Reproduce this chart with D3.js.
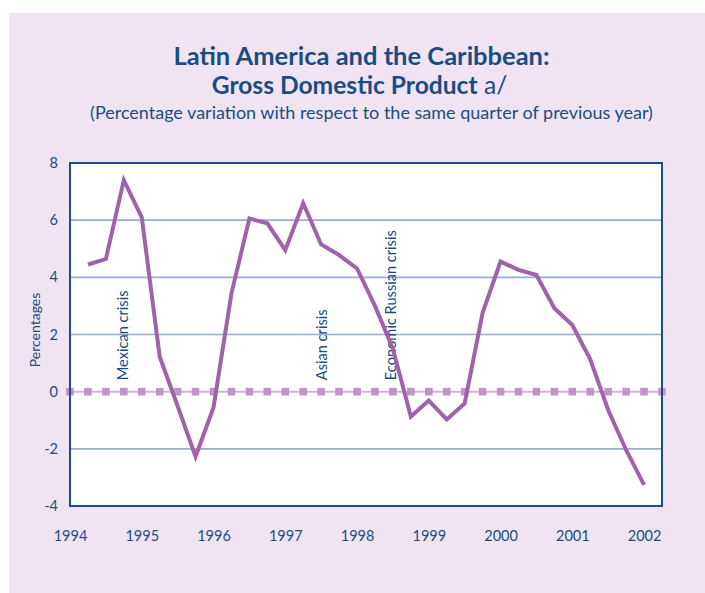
<!DOCTYPE html>
<html><head><meta charset="utf-8">
<script src="https://cdn.jsdelivr.net/npm/d3@7"></script>
<style>
html,body{margin:0;padding:0;background:#fff;}
svg{display:block;}
text{font-family:Lato,"Open Sans",sans-serif;}
</style></head>
<body><svg id="c" width="705" height="593"></svg>
<script>
// ---- data ----
const quarters = [
 "1994Q1","1994Q2","1994Q3","1994Q4","1995Q1","1995Q2","1995Q3","1995Q4",
 "1996Q1","1996Q2","1996Q3","1996Q4","1997Q1","1997Q2","1997Q3","1997Q4",
 "1998Q1","1998Q2","1998Q3","1998Q4","1999Q1","1999Q2","1999Q3","1999Q4",
 "2000Q1","2000Q2","2000Q3","2000Q4","2001Q1","2001Q2","2001Q3","2001Q4"];
const gdp = [4.45,4.64,7.40,6.10,1.22,-0.50,-2.27,-0.55,
             3.44,6.06,5.89,4.95,6.59,5.15,4.78,4.31,
             3.00,1.50,-0.87,-0.31,-0.97,-0.41,2.76,4.55,
             4.26,4.08,2.92,2.33,1.13,-0.64,-2.04,-3.26];
const yearTicks = [1994,1995,1996,1997,1998,1999,2000,2001,2002];
const yTicks = [-4,-2,0,2,4,6,8];
const crisisLabels = ["Mexican crisis","Asian crisis","Economic Russian crisis"];
const crisisTimes = [1994.74,1997.51,1998.47];
const titleLines = ["Latin America and the Caribbean:","Gross Domestic Product"];
const subtitle = "(Percentage variation with respect to the same quarter of previous year)";

// ---- layout ----
const svg = d3.select("#c");
const navy = "#1a4c84";
const qTime = q => +q.slice(0,4) + (+q.slice(5))/4;
const x = d3.scaleLinear().domain([1994,2002.25]).range([70,662]);
const y = d3.scaleLinear().domain([-4,8]).range([506,163]);

svg.append("rect").attr("x",9).attr("y",13).attr("width",696).attr("height",580).attr("fill","#f0e4f2");

// titles
svg.append("text").attr("x",361.5).attr("y",64.5).attr("text-anchor","middle")
  .attr("fill",navy).attr("font-weight","bold").attr("font-size",25.5).text(titleLines[0]);
const t2 = svg.append("text").attr("x",359.5).attr("y",94).attr("text-anchor","middle")
  .attr("fill",navy).attr("font-size",24.6);
t2.append("tspan").attr("font-weight","bold").text(titleLines[1]);
t2.append("tspan").attr("font-weight","normal").text(" a/");
svg.append("text").attr("x",371.5).attr("y",119).attr("text-anchor","middle")
  .attr("fill",navy).attr("font-size",18).text(subtitle);

// plot background
svg.append("rect").attr("x",70).attr("y",163).attr("width",592).attr("height",343).attr("fill","#fff");

// grid
svg.append("g").selectAll("line").data(yTicks.filter(d=>d!==0 && d!==8 && d!==-4)).join("line")
  .attr("x1",70).attr("x2",662).attr("y1",d=>y(d)).attr("y2",d=>y(d))
  .attr("stroke","#98acd0").attr("stroke-width",1.6);

// zero reference line with square markers
const zeroTimes = d3.range(0,34).map(k=>1994+k/4);
svg.append("line").attr("x1",x(1994)).attr("x2",x(2002.25)).attr("y1",y(0)).attr("y2",y(0))
  .attr("stroke","#d4b0d8").attr("stroke-width",2);
svg.append("g").selectAll("rect").data(zeroTimes).join("rect")
  .attr("x",d=>x(d)-3.8).attr("y",y(0)-3.8).attr("width",7.6).attr("height",7.6)
  .attr("fill","#c194c8");

// frame
svg.append("rect").attr("x",70).attr("y",163).attr("width",592).attr("height",343)
  .attr("fill","none").attr("stroke","#1b4f88").attr("stroke-width",2);

// axes labels
const yAxis = d3.axisLeft(y).tickValues(yTicks).tickSize(0).tickPadding(10).tickFormat(d=>String(d));
const gy = svg.append("g").attr("transform","translate(70,0)").call(yAxis);
gy.select(".domain").remove();
gy.selectAll("text").attr("fill",navy).attr("font-size",14.5).attr("font-family","Lato,sans-serif").attr("dx",-2);

const xAxis = d3.axisBottom(x).tickValues(yearTicks).tickSize(0).tickPadding(0).tickFormat(d=>String(d));
const gx = svg.append("g").attr("transform","translate(0,531)").call(xAxis);
gx.select(".domain").remove();
gx.selectAll("text").attr("fill",navy).attr("font-size",14.5).attr("font-family","Lato,sans-serif");

svg.append("text").attr("transform","translate(40,330) rotate(-90)").attr("text-anchor","middle")
  .attr("fill",navy).attr("font-size",14).text("Percentages");

// crisis annotations
svg.append("g").selectAll("text").data(crisisLabels).join("text")
  .attr("transform",(d,i)=>`translate(${x(crisisTimes[i])+5},${y(0.4)}) rotate(-90)`)
  .attr("fill",navy).attr("font-size",14.6).text(d=>d);

// GDP line
const line = d3.line().x((d,i)=>x(qTime(quarters[i]))).y(d=>y(d));
svg.append("path").datum(gdp).attr("d",line).attr("fill","none")
  .attr("stroke","#a062ab").attr("stroke-width",4).attr("stroke-linejoin","miter");
</script></body></html>
